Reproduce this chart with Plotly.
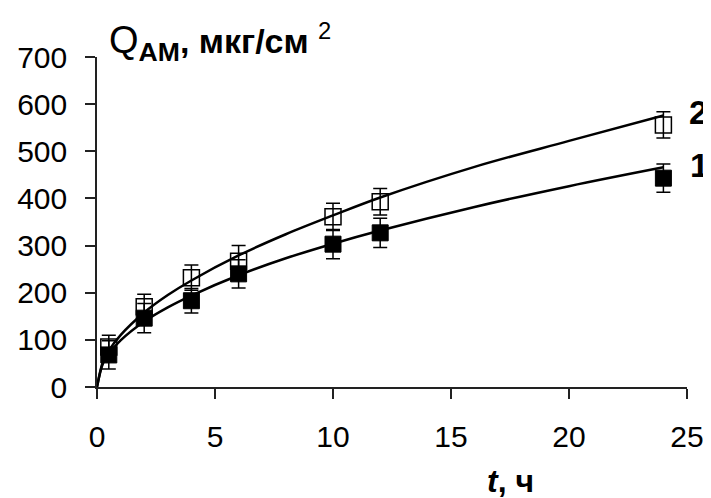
import plotly.graph_objects as go

# measured points
t_pts = [0.5, 2, 4, 6, 10, 12, 24]
q_open = [85, 170, 232, 267, 361, 393, 556]      # series 2
err_open = [25, 27, 27, 33, 29, 28, 28]
q_filled = [68, 146, 183, 240, 303, 327, 443]    # series 1
err_filled = [30, 31, 26, 30, 31, 31, 30]

# fitted curves
fit_t = [0, 0.25, 0.5, 1, 2, 3, 4, 6, 8, 10, 12, 16, 20, 24]
fit_open = [0, 53, 77, 110, 158, 195, 226, 279, 324, 364, 402, 467, 522, 576]
fit_filled = [0, 50, 71, 99, 139, 169, 194, 237, 273, 304, 332, 382, 426, 466]

x_ticks = [0, 5, 10, 15, 20, 25]
y_ticks = [0, 100, 200, 300, 400, 500, 600, 700]

FONT = "Liberation Sans, Arial, sans-serif"

fig = go.Figure()
fig.add_trace(go.Scatter(x=fit_t, y=fit_open, mode="lines", line=dict(color="black", width=2.5, shape="spline"), showlegend=False))
fig.add_trace(go.Scatter(x=fit_t, y=fit_filled, mode="lines", line=dict(color="black", width=2.5, shape="spline"), showlegend=False))
fig.add_trace(go.Scatter(
    x=t_pts, y=q_open, mode="markers", showlegend=False,
    marker=dict(symbol="square-open", size=16, color="black", line=dict(color="black", width=1.5)),
    error_y=dict(type="data", array=err_open, width=7, thickness=1.5, color="black")))
fig.add_trace(go.Scatter(
    x=t_pts, y=q_filled, mode="markers", showlegend=False,
    marker=dict(symbol="square", size=16, color="black", line=dict(color="black", width=1)),
    error_y=dict(type="data", array=err_filled, width=7, thickness=1.5, color="black")))

axis_common = dict(showline=True, linecolor="#222", linewidth=1.5, ticks="outside", ticklen=10,
                   tickwidth=1.5, tickcolor="#222", showgrid=False, zeroline=False, automargin=False,
                   tickfont=dict(family=FONT, size=30, color="black"))
fig.update_xaxes(range=[0, 25], tickvals=x_ticks, ticklabelstandoff=12, **axis_common)
fig.update_yaxes(range=[0, 700], tickvals=y_ticks, ticklabelstandoff=12, **axis_common)

fig.add_annotation(xref="paper", yref="paper", x=0.017, y=1.045, xanchor="left", yanchor="middle",
                   showarrow=False, font=dict(family=FONT, size=38, color="black"),
                   text="Q<sub><b>АМ</b></sub><span style='font-size:34px'><b>, мкг/см</b> <sup>2</sup></span>")
fig.add_annotation(xref="paper", yref="paper", x=0.70, y=-0.285, xanchor="center", yanchor="middle",
                   showarrow=False, font=dict(family=FONT, size=32, color="black"),
                   text="<b><i>t</i>, ч</b>")
fig.add_annotation(xref="paper", yref="paper", x=1.02, y=0.833, xanchor="center", yanchor="middle",
                   showarrow=False, font=dict(family=FONT, size=34, color="black"), text="<b>2</b>")
fig.add_annotation(xref="paper", yref="paper", x=1.022, y=0.673, xanchor="center", yanchor="middle",
                   showarrow=False, font=dict(family=FONT, size=34, color="black"), text="<b>1</b>")

fig.update_layout(width=703, height=490, margin=dict(l=89, r=24, t=49, b=111, autoexpand=False),
                  paper_bgcolor="white", plot_bgcolor="white", showlegend=False)

fig.write_html("out.html")
